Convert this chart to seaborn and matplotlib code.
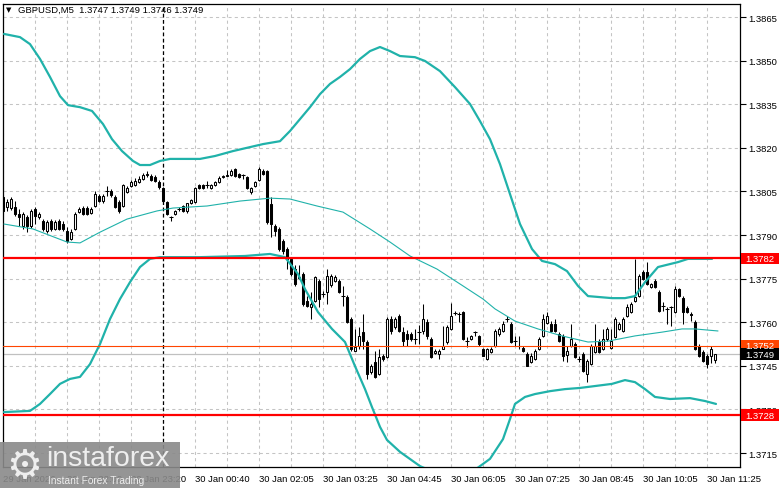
import numpy as np
import pandas as pd
import matplotlib
matplotlib.use("Agg")
import matplotlib.pyplot as plt
import seaborn as sns
from matplotlib.patches import Rectangle
from matplotlib.transforms import blended_transform_factory

sns.set_style("white")
plt.rcParams['font.family'] = ['Liberation Sans', 'DejaVu Sans']

# ---------------- data ----------------
title_text = "GBPUSD,M5  1.3747 1.3749 1.3746 1.3749"

opens = [
1.38031, 1.37996, 1.37993, 1.37996, 1.37972, 1.37931, 1.37962, 1.37931, 1.37990, 1.37962,
1.37948, 1.37914, 1.37948, 1.37921, 1.37948, 1.37938, 1.37914, 1.37886, 1.37921, 1.37979,
1.37993, 1.37993, 1.37976, 1.38000, 1.38034, 1.38017, 1.38051, 1.38051, 1.38031, 1.38014,
1.38000, 1.38048, 1.38069, 1.38072, 1.38082, 1.38093, 1.38107, 1.38103, 1.38100, 1.38082,
1.38062, 1.38014, 1.37962, 1.37972, 1.37990, 1.38000, 1.37983, 1.38010, 1.38014, 1.38072,
1.38072, 1.38072, 1.38062, 1.38072, 1.38082, 1.38100, 1.38103, 1.38107, 1.38127, 1.38110,
1.38107, 1.38100, 1.38048, 1.38069, 1.38089, 1.38120, 1.38120, 1.38007, 1.37931, 1.37921,
1.37879, 1.37852, 1.37818, 1.37783, 1.37756, 1.37766, 1.37673, 1.37652, 1.37673, 1.37742,
1.37697, 1.37704, 1.37728, 1.37742, 1.37742, 1.37690, 1.37687, 1.37611, 1.37501, 1.37518,
1.37566, 1.37532, 1.37429, 1.37463, 1.37422, 1.37484, 1.37480, 1.37611, 1.37584, 1.37621,
1.37566, 1.37561, 1.37561, 1.37542, 1.37566, 1.37570, 1.37601, 1.37542, 1.37494, 1.37491,
1.37508, 1.37532, 1.37577, 1.37632, 1.37628, 1.37635, 1.37535, 1.37542, 1.37566, 1.37553,
1.37508, 1.37474, 1.37498, 1.37518, 1.37561, 1.37570, 1.37611, 1.37594, 1.37535, 1.37518,
1.37511, 1.37491, 1.37463, 1.37474, 1.37508, 1.37553, 1.37597, 1.37594, 1.37594, 1.37560,
1.37553, 1.37487, 1.37518, 1.37525, 1.37474, 1.37491, 1.37422, 1.37456, 1.37498, 1.37532,
1.37508, 1.37542, 1.37511, 1.37549, 1.37577, 1.37570, 1.37621, 1.37635, 1.37673, 1.37690,
1.37773, 1.37773, 1.37721, 1.37742, 1.37704, 1.37656, 1.37646, 1.37652, 1.37635, 1.37714,
1.37683, 1.37649, 1.37628, 1.37601, 1.37518, 1.37498, 1.37484, 1.37484, 1.37470]

highs = [
1.38041, 1.38024, 1.38031, 1.38017, 1.37990, 1.37979, 1.37969, 1.37990, 1.37996, 1.37979,
1.37955, 1.37952, 1.37955, 1.37952, 1.37955, 1.37948, 1.37928, 1.37921, 1.37979, 1.37996,
1.38000, 1.38000, 1.37996, 1.38051, 1.38041, 1.38041, 1.38069, 1.38058, 1.38038, 1.38021,
1.38076, 1.38069, 1.38089, 1.38096, 1.38103, 1.38113, 1.38120, 1.38110, 1.38107, 1.38089,
1.38065, 1.38017, 1.37965, 1.37986, 1.37996, 1.38003, 1.38007, 1.38024, 1.38065, 1.38076,
1.38076, 1.38086, 1.38076, 1.38086, 1.38103, 1.38107, 1.38124, 1.38127, 1.38131, 1.38113,
1.38110, 1.38103, 1.38065, 1.38086, 1.38134, 1.38127, 1.38124, 1.38031, 1.37938, 1.37928,
1.37886, 1.37859, 1.37824, 1.37797, 1.37797, 1.37773, 1.37690, 1.37704, 1.37759, 1.37749,
1.37707, 1.37783, 1.37766, 1.37763, 1.37749, 1.37725, 1.37694, 1.37618, 1.37577, 1.37584,
1.37628, 1.37539, 1.37456, 1.37501, 1.37508, 1.37491, 1.37618, 1.37621, 1.37618, 1.37628,
1.37584, 1.37575, 1.37568, 1.37577, 1.37590, 1.37663, 1.37611, 1.37549, 1.37508, 1.37508,
1.37587, 1.37590, 1.37666, 1.37639, 1.37635, 1.37639, 1.37549, 1.37556, 1.37570, 1.37556,
1.37511, 1.37511, 1.37515, 1.37577, 1.37584, 1.37604, 1.37621, 1.37601, 1.37553, 1.37553,
1.37518, 1.37498, 1.37494, 1.37508, 1.37549, 1.37628, 1.37635, 1.37604, 1.37611, 1.37566,
1.37560, 1.37518, 1.37594, 1.37532, 1.37484, 1.37498, 1.37474, 1.37525, 1.37594, 1.37542,
1.37577, 1.37584, 1.37577, 1.37618, 1.37601, 1.37618, 1.37663, 1.37670, 1.37818, 1.37766,
1.37780, 1.37807, 1.37735, 1.37749, 1.37711, 1.37670, 1.37652, 1.37656, 1.37725, 1.37718,
1.37690, 1.37656, 1.37635, 1.37608, 1.37525, 1.37504, 1.37491, 1.37518, 1.37490]

lows = [
1.37972, 1.37983, 1.37986, 1.37965, 1.37931, 1.37921, 1.37910, 1.37924, 1.37938, 1.37955,
1.37914, 1.37907, 1.37914, 1.37917, 1.37917, 1.37914, 1.37873, 1.37883, 1.37917, 1.37976,
1.37969, 1.37969, 1.37972, 1.37996, 1.38014, 1.38010, 1.38034, 1.38031, 1.37993, 1.37976,
1.37996, 1.38045, 1.38065, 1.38069, 1.38079, 1.38089, 1.38100, 1.38086, 1.38082, 1.38058,
1.38014, 1.37969, 1.37948, 1.37969, 1.37983, 1.37979, 1.37976, 1.38007, 1.38010, 1.38058,
1.38058, 1.38062, 1.38058, 1.38069, 1.38079, 1.38096, 1.38103, 1.38103, 1.38100, 1.38096,
1.38093, 1.38058, 1.38041, 1.38065, 1.38086, 1.38107, 1.37938, 1.37893, 1.37897, 1.37845,
1.37835, 1.37783, 1.37759, 1.37725, 1.37749, 1.37656, 1.37652, 1.37611, 1.37670, 1.37652,
1.37687, 1.37663, 1.37721, 1.37738, 1.37701, 1.37656, 1.37597, 1.37501, 1.37501, 1.37508,
1.37508, 1.37405, 1.37422, 1.37408, 1.37419, 1.37467, 1.37477, 1.37560, 1.37577, 1.37566,
1.37518, 1.37518, 1.37535, 1.37525, 1.37525, 1.37560, 1.37542, 1.37477, 1.37491, 1.37474,
1.37508, 1.37525, 1.37573, 1.37625, 1.37601, 1.37539, 1.37515, 1.37539, 1.37553, 1.37518,
1.37484, 1.37470, 1.37494, 1.37515, 1.37553, 1.37566, 1.37601, 1.37529, 1.37518, 1.37508,
1.37498, 1.37449, 1.37460, 1.37470, 1.37504, 1.37549, 1.37594, 1.37566, 1.37566, 1.37532,
1.37467, 1.37463, 1.37515, 1.37477, 1.37463, 1.37429, 1.37394, 1.37453, 1.37494, 1.37494,
1.37504, 1.37535, 1.37508, 1.37546, 1.37573, 1.37566, 1.37618, 1.37632, 1.37670, 1.37687,
1.37745, 1.37728, 1.37718, 1.37718, 1.37635, 1.37639, 1.37594, 1.37587, 1.37632, 1.37687,
1.37594, 1.37632, 1.37604, 1.37504, 1.37480, 1.37463, 1.37443, 1.37460, 1.37460]

closes = [
1.37983, 1.38014, 1.38024, 1.37972, 1.37962, 1.37972, 1.37931, 1.37983, 1.37965, 1.37972,
1.37921, 1.37945, 1.37921, 1.37945, 1.37921, 1.37921, 1.37879, 1.37910, 1.37972, 1.37990,
1.37972, 1.37972, 1.37990, 1.38041, 1.38017, 1.38034, 1.38051, 1.38038, 1.37996, 1.37983,
1.38072, 1.38062, 1.38082, 1.38086, 1.38093, 1.38107, 1.38110, 1.38089, 1.38086, 1.38065,
1.38017, 1.37972, 1.37962, 1.37983, 1.37990, 1.37983, 1.38010, 1.38021, 1.38062, 1.38062,
1.38062, 1.38072, 1.38072, 1.38082, 1.38096, 1.38103, 1.38107, 1.38120, 1.38103, 1.38100,
1.38107, 1.38062, 1.38062, 1.38082, 1.38127, 1.38110, 1.37945, 1.37938, 1.37914, 1.37852,
1.37845, 1.37818, 1.37766, 1.37732, 1.37752, 1.37663, 1.37656, 1.37663, 1.37756, 1.37680,
1.37697, 1.37759, 1.37759, 1.37756, 1.37704, 1.37690, 1.37601, 1.37508, 1.37515, 1.37553,
1.37535, 1.37422, 1.37449, 1.37412, 1.37480, 1.37474, 1.37611, 1.37570, 1.37611, 1.37570,
1.37535, 1.37542, 1.37542, 1.37542, 1.37566, 1.37611, 1.37553, 1.37480, 1.37501, 1.37501,
1.37518, 1.37584, 1.37621, 1.37632, 1.37628, 1.37542, 1.37535, 1.37553, 1.37566, 1.37525,
1.37484, 1.37508, 1.37508, 1.37570, 1.37577, 1.37594, 1.37611, 1.37532, 1.37535, 1.37518,
1.37501, 1.37449, 1.37484, 1.37501, 1.37542, 1.37611, 1.37621, 1.37570, 1.37570, 1.37535,
1.37484, 1.37501, 1.37542, 1.37480, 1.37474, 1.37432, 1.37467, 1.37518, 1.37518, 1.37498,
1.37542, 1.37577, 1.37535, 1.37611, 1.37594, 1.37611, 1.37652, 1.37663, 1.37687, 1.37759,
1.37749, 1.37732, 1.37732, 1.37721, 1.37639, 1.37656, 1.37646, 1.37652, 1.37714, 1.37690,
1.37635, 1.37635, 1.37625, 1.37508, 1.37484, 1.37467, 1.37456, 1.37508, 1.37490]

# Bollinger-type envelope (bar index, price)
upper_idx = [0.25, 4.25, 6.75, 9.25, 11.75, 14.25, 16.25, 19.25, 22.25, 25, 27.25, 29.75, 32.5, 34.25, 36.75,
             39.25, 41.75, 49.25, 53, 57.5, 65, 69.25, 71.75, 74.25, 76.75, 79.25, 81.75, 84.25, 86.75, 89.25,
             91.75, 94.25, 96.75, 99.25, 103, 105.5, 109.25, 113, 116.75, 119.25, 121.75, 124.25, 126.75, 129.25,
             132.25, 134.75, 138, 141, 143.75, 146.25, 152.25, 155.5, 158, 160.5, 163.75, 168.75, 171.25, 177.25]
upper_val = [1.38592, 1.38581, 1.38557, 1.38506, 1.38444, 1.38378, 1.38347, 1.38340, 1.38327, 1.38282, 1.38230,
             1.38189, 1.38155, 1.38141, 1.38141, 1.38155, 1.38162, 1.38162, 1.38172, 1.38189, 1.38213, 1.38223,
             1.38258, 1.38299, 1.38340, 1.38385, 1.38420, 1.38444, 1.38471, 1.38506, 1.38533, 1.38547, 1.38533,
             1.38516, 1.38512, 1.38499, 1.38464, 1.38409, 1.38351, 1.38292, 1.38230, 1.38144, 1.38041, 1.37938,
             1.37852, 1.37811, 1.37800, 1.37776, 1.37725, 1.37690, 1.37683, 1.37683, 1.37690, 1.37738, 1.37790,
             1.37807, 1.37818, 1.37818]
mid_idx = [0.25, 7.5, 16, 19.25, 24.25, 31, 38.5, 42.5, 51, 59.25, 66.75, 71.75, 78.5, 85, 91.75, 96.75, 101.75,
           108.5, 115, 120, 123, 128, 133.75, 139.75, 146.25, 151.25, 158, 164.75, 169.75, 173, 178.75]
mid_val = [1.37938, 1.37921, 1.37876, 1.37873, 1.37910, 1.37955, 1.37983, 1.37993, 1.38000, 1.38017, 1.38027,
           1.38024, 1.38000, 1.37979, 1.37921, 1.37876, 1.37828, 1.37783, 1.37725, 1.37680, 1.37646, 1.37604,
           1.37577, 1.37553, 1.37532, 1.37535, 1.37553, 1.37566, 1.37577, 1.37577, 1.37570]
low_idx = [0.25, 6.75, 9.25, 11.75, 14.25, 16.75, 19.25, 21.75, 24.25, 26.75, 29.25, 31.75, 34.25, 36.75, 39.25,
           49.25, 60.5, 66.75, 70.5, 73.75, 75.5, 78.75, 82.25, 85.5, 88, 90.5, 92.25, 94.25, 96, 99.25, 104.25,
           110.5, 115.5, 119.25, 121.75, 125, 126.75, 128, 130.5, 133, 136.75, 140.5, 144.25, 152.25, 155.5, 158,
           160.5, 163, 166.75, 171.75, 175.5, 178.25]
low_val = [1.37291, 1.37295, 1.37319, 1.37353, 1.37388, 1.37405, 1.37412, 1.37456, 1.37525, 1.37611, 1.37680,
           1.37738, 1.37790, 1.37818, 1.37824, 1.37824, 1.37828, 1.37835, 1.37824, 1.37766, 1.37714, 1.37635,
           1.37577, 1.37532, 1.37449, 1.37370, 1.37308, 1.37240, 1.37195, 1.37154, 1.37105, 1.37068, 1.37068,
           1.37105, 1.37130, 1.37198, 1.37267, 1.37319, 1.37343, 1.37353, 1.37363, 1.37370, 1.37374, 1.37388,
           1.37401, 1.37394, 1.37370, 1.37343, 1.37336, 1.37339, 1.37329, 1.37319]

time_tick_idx = [0, 16, 32, 48, 64, 80, 96, 112, 128, 144, 160, 176]
time_tick_labels = ["29 Jan 2026", "29 Jan 22:00", "29 Jan 23:20", "30 Jan 00:40", "30 Jan 02:05",
                    "30 Jan 03:25", "30 Jan 04:45", "30 Jan 06:05", "30 Jan 07:25", "30 Jan 08:45",
                    "30 Jan 10:05", "30 Jan 11:25"]
price_ticks = [1.3715, 1.3730, 1.3745, 1.3760, 1.3775, 1.3790, 1.3805, 1.3820, 1.3835, 1.3850, 1.3865]
red_levels = [1.3782, 1.3728]
orange_level = 1.3752
bid_level = 1.3749
day_separator_idx = 40

# ---------------- figure ----------------
W, H = 781, 489
fig = plt.figure(figsize=(W / 100, H / 100), dpi=100)
fig.patch.set_facecolor('white')
ax = fig.add_axes([3 / W, 21 / H, 737 / W, 463 / H])
ax.set_facecolor('white')

ax.set_xlim(0, 184.25)
ax.set_ylim(1.37102, 1.38695)
px_per_price = 463 / (1.38695 - 1.37102)

FS = 6.8
# grid
ax.set_yticks(price_ticks)
ax.set_yticklabels([f"{v:.4f}" for v in price_ticks])
ax.set_xticks(time_tick_idx)
ax.set_xticklabels(time_tick_labels, ha='left')
ax.set_xticks(list(range(8, 184, 16)), minor=True)
ax.grid(True, which='both', color='#c4c4c4', linestyle=(0, (3, 3)), linewidth=0.75, zorder=0)
ax.set_axisbelow(True)
ax.yaxis.tick_right()
ax.tick_params(axis='y', which='major', length=4, width=0.8, pad=2, labelsize=FS, colors='black', direction='out', right=True, left=False)
ax.tick_params(axis='x', which='major', length=3, width=0.8, pad=2, labelsize=FS, colors='black', direction='out')
ax.tick_params(axis='x', which='minor', length=0)
for s in ax.spines.values():
    s.set_color('black')
    s.set_linewidth(0.9)

# separator and levels
ax.axvline(day_separator_idx, color='black', linestyle=(0, (3, 2)), linewidth=0.9, zorder=2)
ax.axhline(bid_level, color='#c0c0c0', linewidth=0.9, zorder=2)

# candles
o = np.array(opens); h = np.array(highs); l = np.array(lows); c = np.array(closes)
idx = np.arange(len(o))
ax.vlines(idx, l, h, color='black', linewidth=0.75, zorder=3)
tol = 0.000015
bull = c > o + tol
bear = c < o - tol
doji = ~(bull | bear)
ax.bar(idx[bull], c[bull] - o[bull], bottom=o[bull], width=0.5, color='white',
       edgecolor='black', linewidth=0.75, zorder=4)
ax.bar(idx[bear], o[bear] - c[bear], bottom=c[bear], width=0.5, color='black',
       edgecolor='black', linewidth=0.75, zorder=4)
ax.hlines(c[doji], idx[doji] - 0.4, idx[doji] + 0.4, color='black', linewidth=0.75, zorder=4)

# envelope
teal = '#20b2aa'
band_up = pd.DataFrame({'bar': upper_idx, 'price': upper_val})
band_mid = pd.DataFrame({'bar': mid_idx, 'price': mid_val})
band_low = pd.DataFrame({'bar': low_idx, 'price': low_val})
sns.lineplot(data=band_up, x='bar', y='price', ax=ax, color=teal, linewidth=1.6, estimator=None, sort=False, zorder=5)
sns.lineplot(data=band_mid, x='bar', y='price', ax=ax, color=teal, linewidth=0.8, estimator=None, sort=False, zorder=5)
sns.lineplot(data=band_low, x='bar', y='price', ax=ax, color=teal, linewidth=1.6, estimator=None, sort=False, zorder=5)
ax.set_xlabel('')
ax.set_ylabel('')

for lv in red_levels:
    ax.axhline(lv, color='#ff0000', linewidth=1.6, zorder=6)
ax.axhline(orange_level, color='#ff4500', linewidth=0.8, zorder=6)

# right-side price boxes
tr = blended_transform_factory(ax.transAxes, ax.transData)
box_left = (741 - 3) / 737
box_w = 38 / 737
box_half_h = 5.8 / px_per_price
for lv, fc in [(red_levels[0], '#ff0000'), (red_levels[1], '#ff0000'), (orange_level, '#ff4500'), (bid_level, 'black')]:
    ax.add_patch(Rectangle((box_left, lv - box_half_h), box_w, 2 * box_half_h, transform=tr,
                           facecolor=fc, edgecolor='none', clip_on=False, zorder=9))
    ax.text((745 - 3) / 737, lv, f"{lv:.4f}", transform=tr, ha='left', va='center', fontsize=FS,
            color='white', clip_on=False, zorder=10)

# title
fig.text(6 / W, 1 - 10.5 / H, '\u25bc', fontsize=5, family='DejaVu Sans', ha='left', va='center', color='black')
fig.text(18 / W, 1 - 10.5 / H, title_text, fontsize=FS, ha='left', va='center', color='black')

# watermark
fig.patches.append(Rectangle((0, 0), 180 / W, 46 / H, transform=fig.transFigure,
                             facecolor='#8a8a8a', edgecolor='none', alpha=0.9, zorder=20))
fig.text(24 / W, 1 - 467 / H, '\u2699', fontsize=29, family='DejaVu Sans', ha='center', va='center',
         color='#eeeeee', zorder=21)
fig.text(46 / W, 1 - 459 / H, 'instaforex', fontsize=20.5, ha='left', va='center', color='#eeeeee', zorder=21)
fig.text(48 / W, 1 - 481 / H, 'Instant Forex Trading', fontsize=7.3, ha='left', va='center', color='#eeeeee', zorder=21)

fig.savefig('out.png', dpi=100, facecolor='white')
